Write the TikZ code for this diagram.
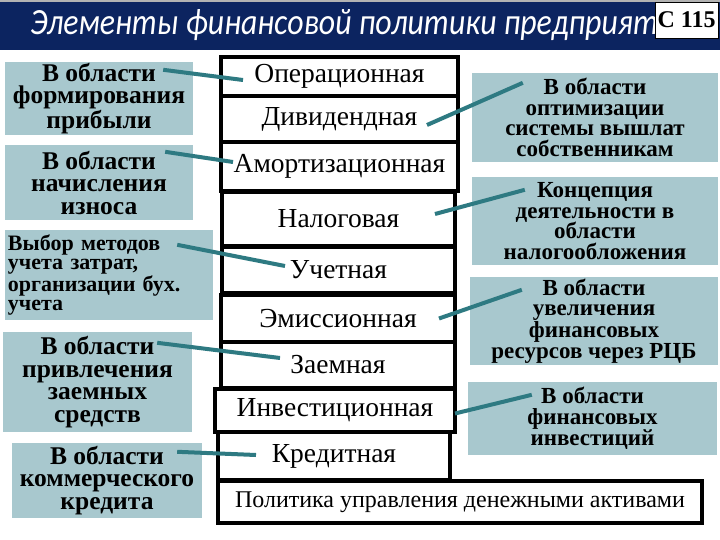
\documentclass[tikz,border=0pt]{standalone}
\usepackage{fontspec}
\setmainfont{Liberation Serif}[BoldFont={Liberation Serif Bold}]
\newfontfamily\titlefont{Carlito}[ItalicFeatures={FakeStretch=0.86}]
\usetikzlibrary{calc}
\definecolor{navybar}{RGB}{12,36,96}
\definecolor{paleteal}{RGB}{168,200,206}
\definecolor{linkteal}{RGB}{46,122,130}

\tikzset{
  area/.style={fill=paleteal, align=center, inner sep=0pt,
    font=\fontsize{25.5}{22.5}\selectfont\bfseries},
  rarea/.style={area, font=\fontsize{23}{20.5}\selectfont\bfseries},
  kind/.style={draw, fill=white, line width=4pt, inner sep=0pt,
    font=\fontsize{27.5}{27.5}\selectfont},
  link/.style={linkteal, line width=4pt}
}

\begin{document}
\begin{tikzpicture}[x=1pt, y=-1pt]
  \useasboundingbox (0,0) rectangle (720,540);

  % title bar
  \fill[navybar] (0,0) rectangle (720,50);
  \fill[gray!60] (0,0) rectangle (720,2);
  \node[anchor=base west, text=white, inner sep=0pt,
    font=\titlefont\itshape\fontsize{37}{37}\selectfont]
    (title) at (30,35) {Элементы финансовой политики предприят};
  \node[draw, fill=white, minimum width=63pt, minimum height=36pt, inner sep=0pt,
    font=\fontsize{24}{24}\selectfont\bfseries] (page) at (686.5,20) {С 115};

  % left areas
  \node[area, minimum width=188pt, minimum height=73pt] (profit) at (99,98.5)
    {В области\\формирования\\прибыли};
  \node[area, minimum width=188pt, minimum height=75pt] (wear) at (99,182.5)
    {В области\\начисления\\износа};
  \node[area, align=left, inner xsep=3pt, text width=202pt, minimum height=90pt,
    font=\fontsize{22}{19.5}\selectfont\bfseries] (costs) at (109,275)
    {Выбор методов\\учета затрат,\\организации бух.\\учета};
  \node[area, minimum width=189pt, minimum height=100pt] (loans) at (97.5,382)
    {В области\\привлечения\\заемных\\средств};
  \node[area, minimum width=190pt, minimum height=75pt] (trade) at (107,480.5)
    {В области\\коммерческого\\кредита};

  % kinds of policy
  \node[kind, minimum width=237pt, minimum height=39pt] (oper) at (339.5,76.5) {Операционная};
  \node[kind, minimum width=237pt, minimum height=46pt] (divid) at (339.5,119) {Дивидендная};
  \node[kind, minimum width=237pt, minimum height=49pt] (amort) at (339.5,166.5) {Амортизационная};
  \node[kind, minimum width=233pt, minimum height=54pt] (tax) at (338.5,219) {Налоговая};
  \node[kind, minimum width=233pt, minimum height=46pt] (acct) at (338.5,270) {Учетная};
  \node[kind, minimum width=234pt, minimum height=47pt] (emis) at (338,318.5) {Эмиссионная};
  \node[kind, minimum width=234pt, minimum height=46pt] (debt) at (338,365) {Заемная};
  \node[kind, minimum width=240pt, minimum height=43pt] (invest) at (335,410.5) {Инвестиционная};
  \node[kind, minimum width=232pt, minimum height=48pt] (credit) at (334,456) {Кредитная};
  \node[kind, minimum width=484pt, minimum height=42pt,
    font=\fontsize{24}{24}\selectfont] (cash) at (460,502)
    {Политика управления денежными активами};

  % right areas
  \node[rarea, minimum width=246pt, minimum height=89pt] (payout) at (595,117.5)
    {В области\\оптимизации\\системы вышлат\\собственникам};
  \node[rarea, minimum width=246pt, minimum height=88pt] (taxation) at (595,221)
    {Концепция\\деятельности в\\области\\налогообложения};
  \node[rarea, minimum width=248pt, minimum height=88pt] (market) at (594,321)
    {В области\\увеличения\\финансовых\\ресурсов через РЦБ};
  \node[rarea, minimum width=249pt, minimum height=73pt] (finvest) at (592.5,418.5)
    {В области\\финансовых\\инвестиций};

  % connectors
  \draw[link] ($(profit.north east)+(-30,8)$) -- ($(oper.west)+(24,3.5)$);
  \draw[link] ($(wear.north east)+(-28,7)$) -- ($(amort.west)+(14,-4.5)$);
  \draw[link] ($(costs.north east)+(-36,15)$) -- ($(acct.west)+(65,-4)$);
  \draw[link] ($(loans.north east)+(-35,11)$) -- ($(debt.west)+(61,-7)$);
  \draw[link] ($(trade.north east)+(-25,9)$) -- ($(credit.west)+(40,-1)$);
  \draw[link] ($(divid.east)+(-33,6)$) -- ($(payout.north west)+(51,10)$);
  \draw[link] ($(tax.east)+(-22,-5)$) -- ($(taxation.north west)+(53,13)$);
  \draw[link] ($(emis.east)+(-18,0)$) -- ($(market.north west)+(52,13)$);
  \draw[link] ($(invest.east)+(-2,3)$) -- ($(finvest.north west)+(64,13)$);
\end{tikzpicture}
\end{document}
